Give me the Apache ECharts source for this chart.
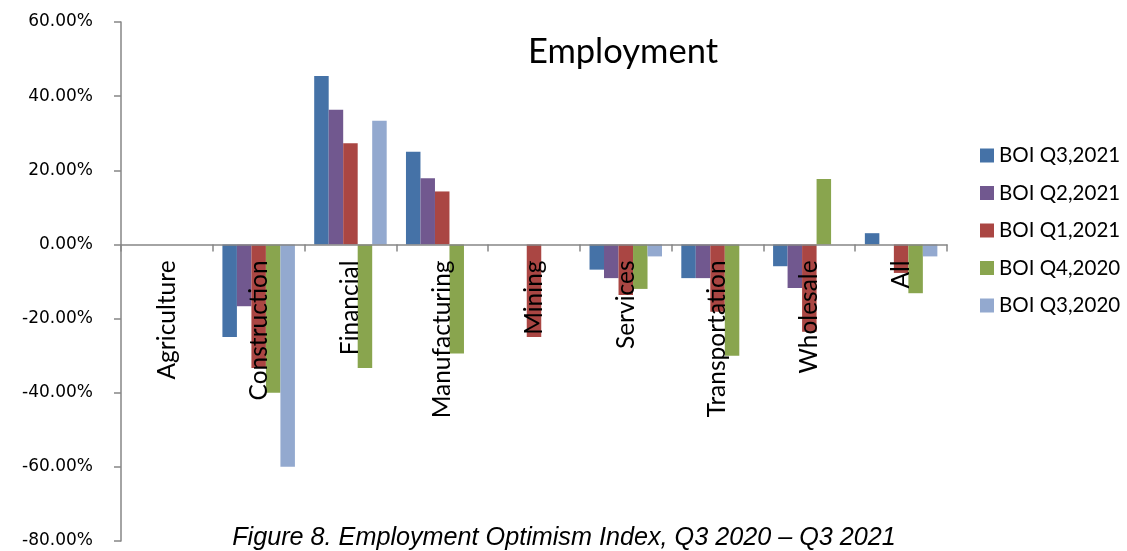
<!DOCTYPE html>
<html>
<head>
<meta charset="utf-8">
<script src="https://cdn.jsdelivr.net/npm/echarts@6/dist/echarts.min.js"></script>
<style>html,body{margin:0;padding:0;background:#fff;}#c{width:1127px;height:551px;}</style>
</head>
<body>
<div id="c"></div>
<script>
var categories = ['Agriculture','Construction','Financial','Manufacturing','Mining','Services','Transportation','Wholesale','All'];
var seriesNames = ['BOI Q3,2021','BOI Q2,2021','BOI Q1,2021','BOI Q4,2020','BOI Q3,2020'];
var q3_2021 = [0, -25, 45.45, 25, 0, -6.8, -9.09, -5.88, 3.03];
var q2_2021 = [0, -16.67, 36.36, 17.86, 0, -9.09, -9.09, -11.76, 0];
var q1_2021 = [0, -33.33, 27.27, 14.29, -25, -13.64, -18.18, -23.53, -7.69];
var q4_2020 = [0, -40, -33.33, -29.41, 0, -12, -30, 17.65, -13.16];
var q3_2020 = [0, -60, 33.33, 0, 0, -3.23, 0, 0, -3.23];
var yTicks = {min: -80, max: 60, interval: 20};

var colors = ['#4572A7','#71588F','#AA4643','#89A54E','#93A9CF'];
var allData = [q3_2021, q2_2021, q1_2021, q4_2020, q3_2020];

var H = 551, gridTop = 22, gridBottom = 10;
var plotH = H - gridTop - gridBottom;
var zeroY = gridTop + plotH * (yTicks.max - 0) / (yTicks.max - yTicks.min);
var xOffset = zeroY - (H - gridBottom);

var chart = echarts.init(document.getElementById('c'));
chart.setOption({
  animation: false,
  color: colors,
  title: [
    {text: 'Employment', left: 618, top: 29, textAlign: 'center',
     textStyle: {fontFamily: 'Lato', fontSize: 34.5, fontWeight: 'normal', color: '#000'}},
    {text: 'Figure 8. Employment Optimism Index, Q3 2020 \u2013 Q3 2021', left: 559, top: 520, textAlign: 'center',
     textStyle: {fontFamily: 'Liberation Sans', fontSize: 25.2, fontStyle: 'italic', fontWeight: 'normal', color: '#000'}}
  ],
  legend: {
    orient: 'vertical', left: 975, top: 140, itemWidth: 14, itemHeight: 14, itemGap: 16.5,
    icon: 'rect',
    textStyle: {fontFamily: 'Lato', fontSize: 20.5, color: '#000'},
    data: seriesNames
  },
  grid: {left: 121, right: 180, top: gridTop, bottom: gridBottom, containLabel: false, outerBoundsMode: 'none'},
  xAxis: {
    type: 'category', data: categories, z: 10, position: 'bottom', offset: xOffset,
    axisLine: {onZero: false, lineStyle: {color: '#868686', width: 1.5}},
    axisTick: {show: true, inside: false, length: 7, lineStyle: {color: '#868686', width: 1.5}},
    axisLabel: {rotate: 90, margin: 16, interval: 0, fontFamily: 'Lato', fontSize: 24.5, color: '#000'}
  },
  yAxis: {
    type: 'value', min: yTicks.min, max: yTicks.max, interval: yTicks.interval,
    axisLine: {show: true, lineStyle: {color: '#868686', width: 1.5}},
    axisTick: {show: true, length: 7, lineStyle: {color: '#868686', width: 1.5}},
    splitLine: {show: false},
    axisLabel: {margin: 28, fontFamily: 'DejaVu Sans', fontSize: 17, color: '#000',
      formatter: function(v){ return v.toFixed(2) + '%'; }}
  },
  series: seriesNames.map(function(n, i){
    return {name: n, type: 'bar', data: allData[i], barGap: '0%', barCategoryGap: '21%',
      itemStyle: {color: colors[i]}};
  })
});
</script>
</body>
</html>
